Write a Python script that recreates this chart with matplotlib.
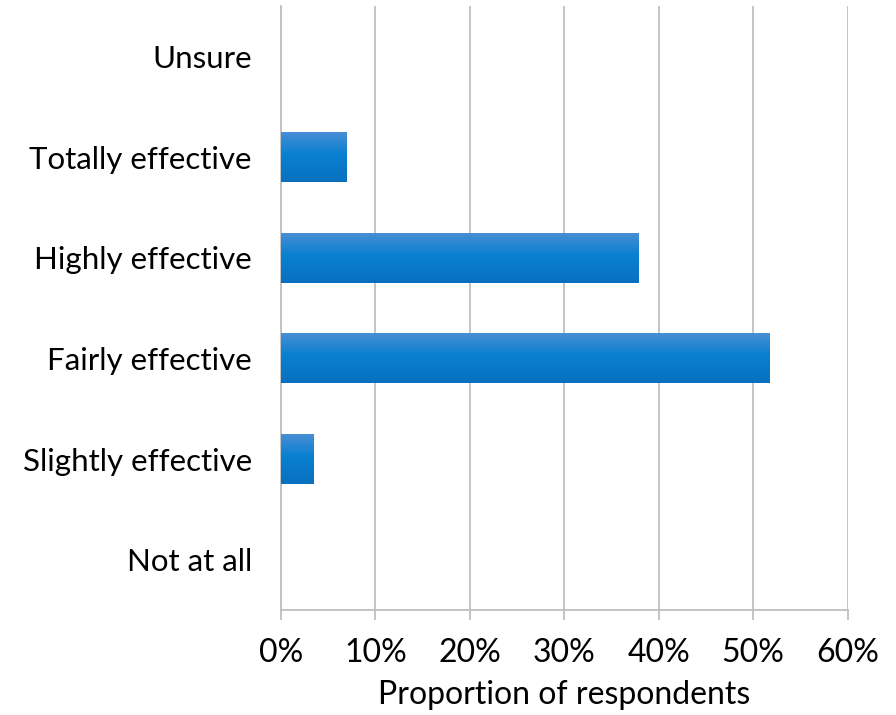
import numpy as np
import matplotlib
matplotlib.use("Agg")
import matplotlib.pyplot as plt
from matplotlib.colors import LinearSegmentedColormap

plt.rcParams['font.family'] = ['Lato', 'DejaVu Sans']

categories = ["Not at all", "Slightly effective", "Fairly effective",
              "Highly effective", "Totally effective", "Unsure"]
proportions = [0.0, 3.4, 51.7, 37.9, 6.9, 0.0]
x_ticks = [0, 10, 20, 30, 40, 50, 60]
x_tick_labels = ["0%", "10%", "20%", "30%", "40%", "50%", "60%"]

grid_color = "#bfbfbf"
bar_cmap = LinearSegmentedColormap.from_list(
    "bar_fill", [(0.0, "#4b8fd5"), (0.45, "#0a80d0"), (1.0, "#0870bf")])

fig = plt.figure(figsize=(8.96, 7.15), dpi=100)
ax = fig.add_axes([281 / 896, 1 - 610 / 715, (847.5 - 281) / 896, (610 - 6) / 715])

y = np.arange(len(categories))
bars = ax.barh(y, proportions, height=0.5, color="none", edgecolor="none", zorder=3)

# vertical gradient fill for each bar, clipped to the bar rectangle
gradient = np.linspace(0, 1, 256).reshape(-1, 1)
for patch in bars.patches:
    w = patch.get_width()
    if w <= 0:
        continue
    x0, y0, h = patch.get_x(), patch.get_y(), patch.get_height()
    im = ax.imshow(gradient, cmap=bar_cmap, aspect="auto",
                   extent=(x0, x0 + w, y0, y0 + h), origin="upper",
                   interpolation="bilinear", zorder=3)
    im.set_clip_path(patch)

ax.set_xlim(0, 60)
ax.set_ylim(-0.5, len(categories) - 0.5)
ax.set_xticks(x_ticks)
ax.set_xticklabels(x_tick_labels)
ax.set_yticks(y)
ax.set_yticklabels(categories)

ax.xaxis.grid(True, color=grid_color, linewidth=1.3, zorder=0)
ax.set_axisbelow(True)

for side in ("top", "right"):
    ax.spines[side].set_visible(False)
for side in ("left", "bottom"):
    ax.spines[side].set_color(grid_color)
    ax.spines[side].set_linewidth(1.3)

ax.tick_params(axis="x", length=7, width=1.3, color=grid_color,
               labelsize=23, pad=13, labelcolor="#000000")
ax.tick_params(axis="y", length=0, labelsize=22.5, pad=21, labelcolor="#000000")

ax.set_xlabel("Proportion of respondents", fontsize=23, labelpad=9, color="#000000")

fig.savefig("out.png", dpi=100)
